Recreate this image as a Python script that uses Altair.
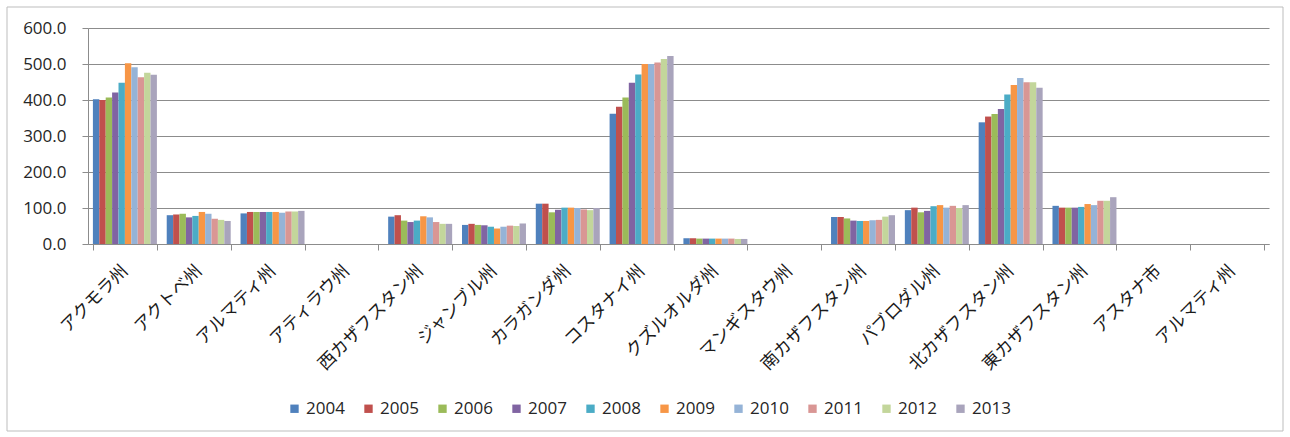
import altair as alt
import pandas as pd

# Regions (the last label repeats an earlier name, so rows are keyed by position)
regions = [
    "アクモラ州", "アクトベ州", "アルマティ州", "アティラウ州", "西カザフスタン州",
    "ジャンブル州", "カラガンダ州", "コスタナイ州", "クズルオルダ州", "マンギスタウ州",
    "南カザフスタン州", "パブロダル州", "北カザフスタン州", "東カザフスタン州",
    "アスタナ市", "アルマティ州",
]
years = ["2004", "2005", "2006", "2007", "2008", "2009", "2010", "2011", "2012", "2013"]

# Values per region, 2004..2013 (None = no data)
akmola = [402, 400, 407, 421, 448, 502, 491, 463, 476, 470]
aktobe = [80, 82, 84, 74, 78, 89, 84, 70, 67, 64]
almaty = [85, 89, 89, 89, 89, 89, 87, 90, 90, 92]
atyrau = [None] * 10
west_kaz = [76, 80, 65, 61, 65, 77, 74, 61, 56, 56]
zhambyl = [53, 56, 53, 52, 48, 43, 48, 51, 50, 57]
karaganda = [112, 112, 88, 95, 101, 101, 100, 96, 94, 100]
kostanay = [362, 381, 407, 448, 471, 500, 500, 504, 514, 522]
kyzylorda = [16, 16, 15, 15, 15, 15, 15, 15, 14, 14]
mangystau = [None] * 10
south_kaz = [75, 75, 71, 65, 64, 64, 66, 67, 76, 80]
pavlodar = [94, 101, 88, 92, 105, 108, 101, 106, 100, 108]
north_kaz = [338, 354, 361, 375, 415, 442, 461, 449, 449, 434]
east_kaz = [106, 101, 101, 101, 103, 111, 108, 120, 120, 130]
astana = [None] * 10
almaty_city = [None] * 10

series = [
    akmola, aktobe, almaty, atyrau, west_kaz, zhambyl, karaganda, kostanay,
    kyzylorda, mangystau, south_kaz, pavlodar, north_kaz, east_kaz, astana, almaty_city,
]

colors = [
    "#4F81BD", "#C0504D", "#9BBB59", "#8064A2", "#4BACC6",
    "#F79646", "#95B3D7", "#D99694", "#C3D69B", "#A9A4BC",
]

rows = []
for i, vals in enumerate(series):
    for y, v in zip(years, vals):
        if v is not None:
            rows.append({"key": i, "year": y, "value": v})
df = pd.DataFrame(rows)

label_expr = "[" + ",".join("'" + r + "'" for r in regions) + "][datum.value]"

AXIS_GRAY = "#8c8c8c"

bars = alt.Chart(df).mark_bar().encode(
    x=alt.X(
        "key:N",
        scale=alt.Scale(domain=list(range(len(regions))), paddingInner=0.133, paddingOuter=0.0665),
        axis=alt.Axis(
            title=None,
            labelExpr=label_expr,
            labelAngle=-45,
            labelAlign="right",
            labelBaseline="middle",
            labelPadding=18,
            labelFont="Noto Sans CJK JP",
            labelFontSize=17.5,
            labelColor="#1a1a1a",
            tickBand="extent",
            tickSize=6,
            tickColor=AXIS_GRAY,
            domainColor=AXIS_GRAY,
            grid=False,
            labelOverlap=False,
        ),
    ),
    xOffset=alt.XOffset("year:N", scale=alt.Scale(domain=years, paddingInner=0, paddingOuter=0)),
    y=alt.Y(
        "value:Q",
        scale=alt.Scale(domain=[0, 600], nice=False),
        axis=alt.Axis(
            title=None,
            values=[0, 100, 200, 300, 400, 500, 600],
            format=".1f",
            labelFont="Open Sans",
            labelFontSize=17,
            labelColor="#262626",
            labelPadding=16,
            tickSize=6,
            tickColor=AXIS_GRAY,
            domainColor=AXIS_GRAY,
            gridColor=AXIS_GRAY,
            gridWidth=1,
        ),
    ),
    color=alt.Color(
        "year:N",
        scale=alt.Scale(domain=years, range=colors),
        legend=alt.Legend(
            title=None,
            orient="none",
            legendX=198,
            legendY=372,
            direction="horizontal",
            columns=10,
            symbolType="square",
            symbolSize=70,
            symbolStrokeWidth=0,
            labelFont="Open Sans",
            labelFontSize=17,
            labelColor="#262626",
            labelOffset=3,
            columnPadding=15,
        ),
    ),
)

# Thin frame around the whole figure
frame = alt.Chart(pd.DataFrame({"f": [0]})).mark_rect(
    fill="transparent", stroke="#bdbdbd", strokeWidth=1
).encode(
    x=alt.value(-81), x2=alt.value(1195), y=alt.value(-21), y2=alt.value(403)
)

chart = alt.layer(frame, bars).properties(
    width=1181,
    height=216,
    autosize=alt.AutoSizeParams(type="none"),
    padding={"left": 88, "top": 28, "right": 21, "bottom": 193},
    background="white",
).configure_view(stroke=None)

chart.save("out.html", embed_options={"renderer": "svg", "actions": False})
